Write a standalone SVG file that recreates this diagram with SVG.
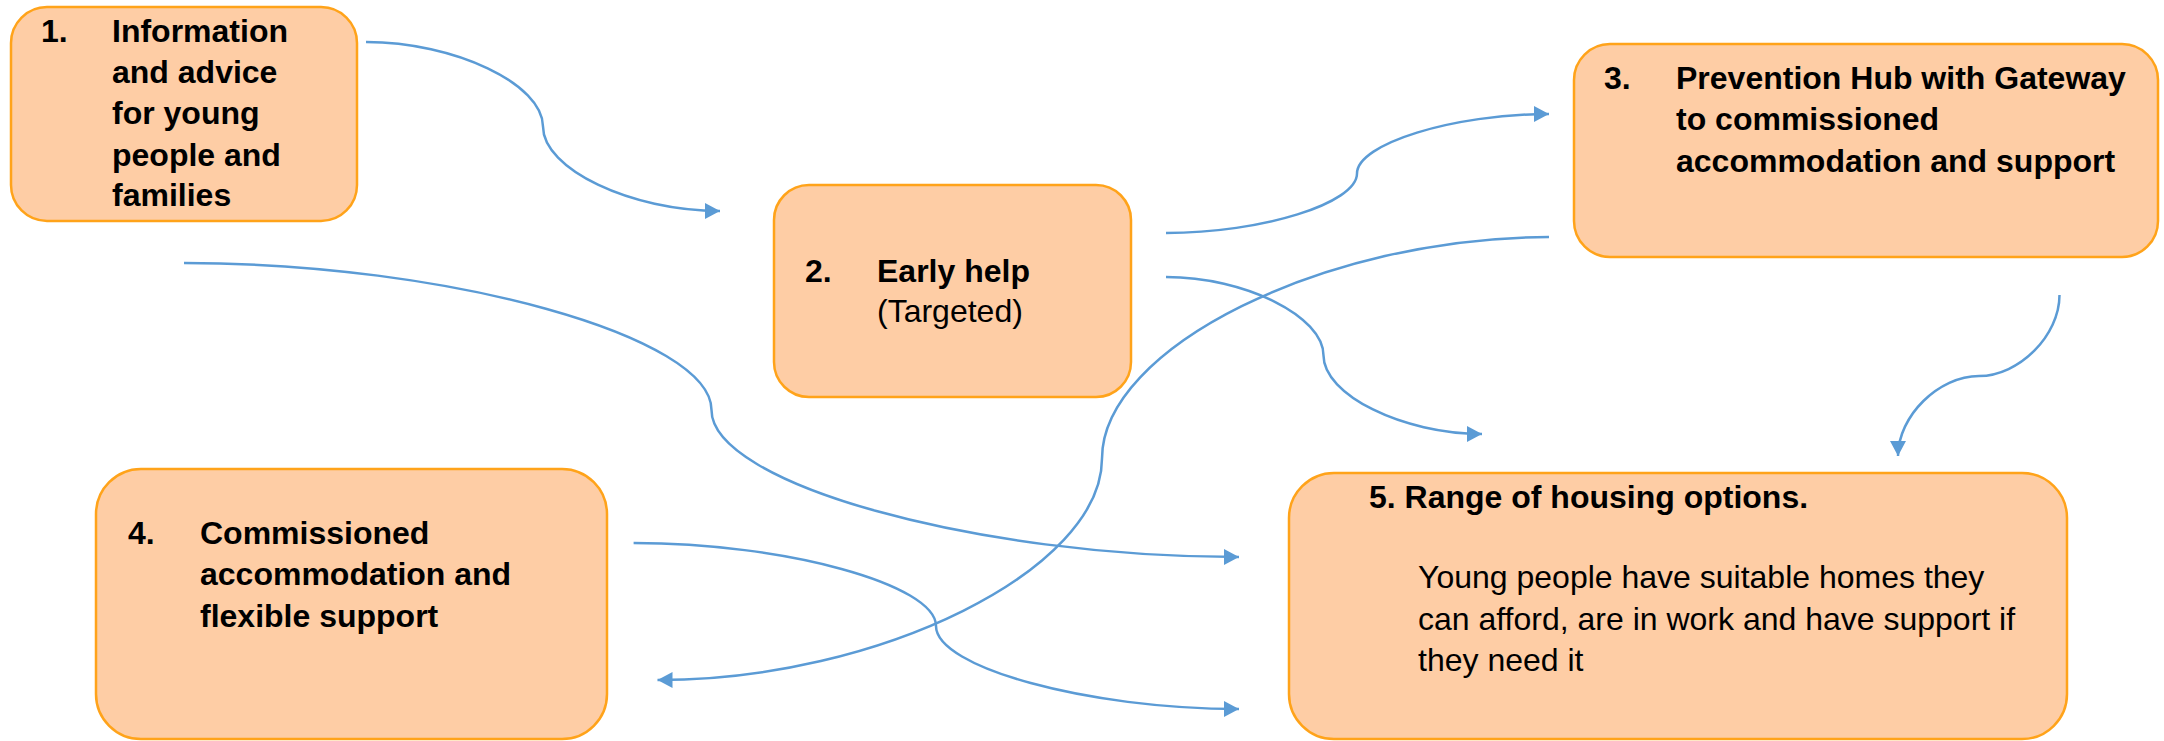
<svg xmlns="http://www.w3.org/2000/svg" width="2164" height="741" viewBox="0 0 2164 741">
<style>
.box{fill:#FECDA5;stroke:#FFA31A;stroke-width:2.5}
.t{font-family:"Liberation Sans",Arial,sans-serif;font-size:32px;fill:#000}
.b{font-weight:bold}
.c{fill:none;stroke:#5B9BD5;stroke-width:2.5}
</style>
<defs>
<marker id="arr" markerUnits="userSpaceOnUse" markerWidth="16" markerHeight="16" refX="15" refY="8" orient="auto">
<path d="M0,0 L15,8 L0,16 z" fill="#5B9BD5"/>
</marker>
</defs>
<rect width="2164" height="741" fill="#fff"/>
<g id="connectors">
<path class="c" marker-end="url(#arr)" d="M366,42 C454.5,42 543,84 543,126.5 C543,169 630.5,211 720,211"/>
<path class="c" marker-end="url(#arr)" d="M184,263 C448,263 711.5,336.5 711.5,410 C711.5,483.5 975.5,557 1239,557"/>
<path class="c" marker-end="url(#arr)" d="M1166,233 C1262,233 1357,203.25 1357,173.5 C1357,143.75 1453,114 1549,114"/>
<path class="c" marker-end="url(#arr)" d="M1166,277 C1245,277 1323.5,316.25 1323.5,355.5 C1323.5,394.75 1402.5,434 1482,434"/>
<path class="c" marker-end="url(#arr)" d="M1549,237 C1325.5,237 1102,347.75 1102,458.5 C1102,569.25 880,680 657.5,680"/>
<path class="c" marker-end="url(#arr)" d="M2059.5,295 C2059.5,335.5 2019.25,376 1979,376 C1938.75,376 1898,416 1898,456"/>
<path class="c" marker-end="url(#arr)" d="M633.6,543 C784.8,543 936,584.5 936,626 C936,667.5 1087.5,709 1239,709"/>
</g>
<g id="node1">
<rect class="box" x="11" y="7" width="346" height="214" rx="36" ry="36"/>
<text class="t b" x="41" y="42">1.</text>
<text class="t b" x="112" y="42">Information</text>
<text class="t b" x="112" y="83">and advice</text>
<text class="t b" x="112" y="124">for young</text>
<text class="t b" x="112" y="166">people and</text>
<text class="t b" x="112" y="206">families</text>
</g>
<g id="node2">
<rect class="box" x="774" y="185" width="357" height="212" rx="35" ry="35"/>
<text class="t b" x="805" y="282">2.</text>
<text class="t b" x="877" y="282">Early help</text>
<text class="t" x="877" y="322">(Targeted)</text>
</g>
<g id="node3">
<rect class="box" x="1574" y="44" width="584" height="213" rx="36" ry="36"/>
<text class="t b" x="1604" y="89">3.</text>
<text class="t b" x="1676" y="89">Prevention Hub with Gateway</text>
<text class="t b" x="1676" y="130">to commissioned</text>
<text class="t b" x="1676" y="172">accommodation and support</text>
</g>
<g id="node4">
<rect class="box" x="96" y="469" width="511" height="270" rx="45" ry="45"/>
<text class="t b" x="128" y="544">4.</text>
<text class="t b" x="200" y="544">Commissioned</text>
<text class="t b" x="200" y="585">accommodation and</text>
<text class="t b" x="200" y="627">flexible support</text>
</g>
<g id="node5">
<rect class="box" x="1289" y="473" width="778" height="266" rx="45" ry="45"/>
<text class="t b" x="1369" y="508">5. Range of housing options.</text>
<text class="t" x="1418" y="588">Young people have suitable homes they</text>
<text class="t" x="1418" y="630">can afford, are in work and have support if</text>
<text class="t" x="1418" y="671">they need it</text>
</g>
</svg>
